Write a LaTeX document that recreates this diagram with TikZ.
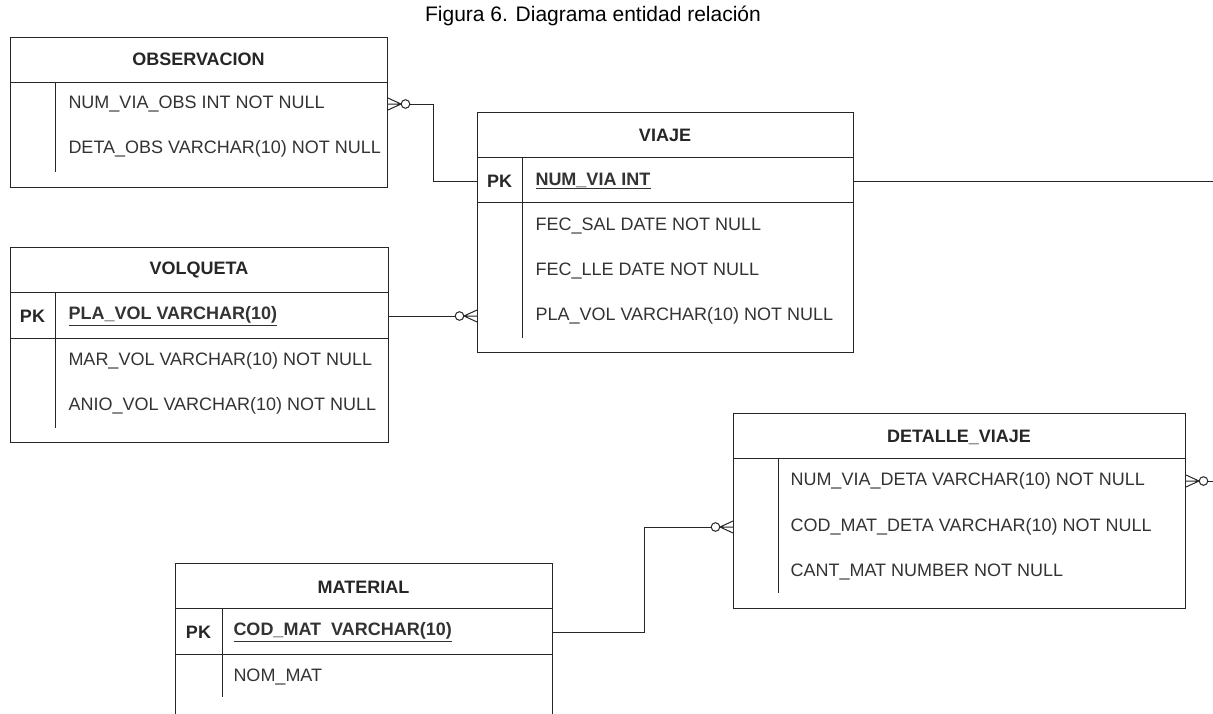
\documentclass[tikz,border=0pt]{standalone}
\usepackage{fontspec}
\setmainfont{Liberation Sans}
\usetikzlibrary{calc}
\begin{document}
\begin{tikzpicture}[x=1pt,y=-1pt,line width=1pt,
  tbl/.style={draw=black!85,inner sep=0pt,anchor=north west},
  hdr/.style={inner sep=0pt,text=black!85,font=\fontsize{18}{21}\selectfont\bfseries},
  fld/.style={inner sep=0pt,anchor=west,text=black!80,font=\fontsize{18}{21}\selectfont},
  pkfld/.style={fld,font=\fontsize{18}{21}\selectfont\bfseries},
  pkey/.style={inner sep=0pt,text=black!85,font=\fontsize{18}{21}\selectfont\bfseries},
  rel/.style={draw=black!85},
  manyR/.pic={
    \draw[rel] (0,-6) -- (13,0) -- (0,6) (0,0) -- (13,0);
    \draw[rel] (17.5,0) circle[radius=4.3];
  }]
\useasboundingbox (0,0) rectangle (1213,713);
\clip (0,0) rectangle (1213,713);

% title
\node[inner sep=0pt,font=\fontsize{21}{25}\selectfont] (title) at (593,16) {Figura 6. Diagrama entidad relación};

% OBSERVACION
\node[tbl,minimum width=377pt,minimum height=150pt] (obs) at (10,37) {};
\draw[rel] (10,82) -- (387,82) (55,82) -- (55,172);
\node[hdr] (obsh) at (198.5,59) {OBSERVACION};
\node[fld] (obs1) at (68,104) {NUM\_VIA\_OBS INT NOT NULL};
\node[fld] (obs2) at (68,149) {DETA\_OBS VARCHAR(10) NOT NULL};

% VIAJE
\node[tbl,minimum width=376pt,minimum height=240pt] (viaje) at (477,112) {};
\draw[rel] (477,157) -- (853,157) (477,202) -- (853,202) (522,157) -- (522,338);
\node[hdr] (viah) at (665,135) {VIAJE};
\node[pkey] (viak) at (499.5,181) {PK};
\node[pkfld] (viapk) at (535,181) {\underline{NUM\_VIA INT}};
\node[fld] (via2) at (535,226) {FEC\_SAL DATE NOT NULL};
\node[fld] (via3) at (535,271) {FEC\_LLE DATE NOT NULL};
\node[fld] (via4) at (535,316) {PLA\_VOL VARCHAR(10) NOT NULL};

% VOLQUETA
\node[tbl,minimum width=378pt,minimum height=195pt] (volq) at (10,247) {};
\draw[rel] (10,292) -- (388,292) (10,338) -- (388,338) (55,292) -- (55,428);
\node[hdr] (volh) at (199,270) {VOLQUETA};
\node[pkey] (volk) at (32.5,316) {PK};
\node[pkfld] (volpk) at (68,316) {\underline{PLA\_VOL VARCHAR(10)}};
\node[fld] (vol2) at (68,361) {MAR\_VOL VARCHAR(10) NOT NULL};
\node[fld] (vol3) at (68,406) {ANIO\_VOL VARCHAR(10) NOT NULL};

% DETALLE_VIAJE
\node[tbl,minimum width=452pt,minimum height=195pt] (det) at (733,413) {};
\draw[rel] (733,458) -- (1185,458) (778,458) -- (778,593);
\node[hdr] (deth) at (959,437) {DETALLE\_VIAJE};
\node[fld] (det1) at (790,481) {NUM\_VIA\_DETA VARCHAR(10) NOT NULL};
\node[fld] (det2) at (790,527) {COD\_MAT\_DETA VARCHAR(10) NOT NULL};
\node[fld] (det3) at (790,572) {CANT\_MAT NUMBER NOT NULL};

% MATERIAL (continues below the page edge)
\node[tbl,minimum width=377pt,minimum height=170pt] (mat) at (175,563) {};
\draw[rel] (175,608) -- (552,608) (175,654) -- (552,654) (222,608) -- (222,697);
\node[hdr] (math) at (363.5,587) {MATERIAL};
\node[pkey] (matk) at (198.5,632) {PK};
\node[pkfld] (matpk) at (233,632) {\underline{COD\_MAT\ \ VARCHAR(10)}};
\node[fld] (mat2) at (233,677) {NOM\_MAT};

% connector ends leaving the page
\coordinate (outA) at (1213,181);
\coordinate (outB) at (1213,481);

% relations
\pic at (obs.east |- obs1) {manyR};
\draw[rel] (obs.east |- obs1) ++(21.8,0) -- ++(23.2,0) |- (viaje.west |- viapk);

\pic[xscale=-1] at (viaje.west |- via4) {manyR};
\draw[rel] (volq.east |- volpk) -- ($(viaje.west |- via4)+(-21.8,0)$);

\pic[xscale=-1] at (det.west |- det2) {manyR};
\draw[rel] (mat.east |- matpk) -- ++(91,0) |- ($(det.west |- det2)+(-21.8,0)$);

\pic at (det.east |- det1) {manyR};
\draw[rel] ($(det.east |- det1)+(21.8,0)$) -- (outB);

\draw[rel] (viaje.east |- viapk) -- (outA);
\end{tikzpicture}
\end{document}
